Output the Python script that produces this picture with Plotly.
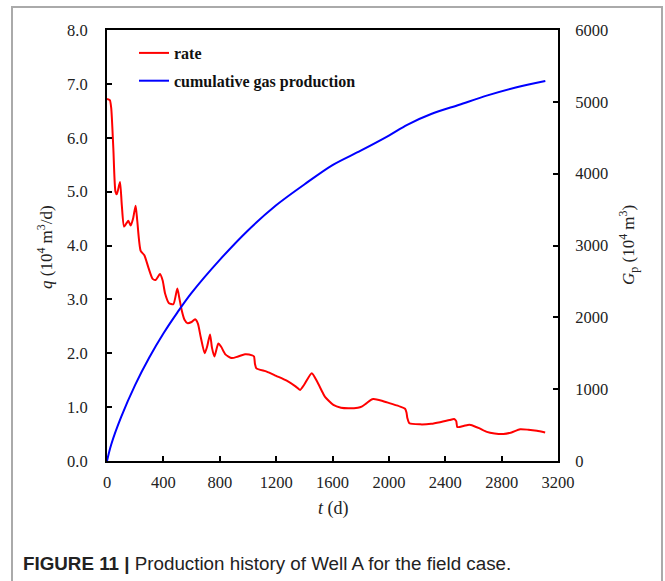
import plotly.graph_objects as go

# ---- data ----
t_rate = [0, 20, 30, 45, 60, 70, 92, 105, 121, 140, 151, 168, 185, 203, 215, 239, 265, 295,
          324, 345, 376, 395, 412, 440, 471, 499, 515, 530, 550, 570, 600, 625, 645, 665,
          693, 710, 731, 745, 762, 790, 810, 840, 885, 930, 979, 1030, 1043, 1050, 1060,
          1133, 1200, 1275, 1340, 1370, 1400, 1453, 1490, 1530, 1547, 1606, 1660, 1713,
          1780, 1807, 1840, 1870, 1890, 1950, 2009, 2080, 2115, 2125, 2131, 2146, 2222,
          2300, 2363, 2430, 2463, 2478, 2486, 2530, 2560, 2581, 2640, 2695, 2750, 2813,
          2870, 2931, 2990, 3050, 3109]
q_rate = [6.72, 6.70, 6.55, 5.80, 5.00, 4.95, 5.18, 4.75, 4.35, 4.42, 4.46, 4.37, 4.50, 4.74,
          4.45, 3.90, 3.82, 3.58, 3.38, 3.36, 3.47, 3.35, 3.11, 2.93, 2.91, 3.20, 3.00, 2.80,
          2.62, 2.56, 2.58, 2.63, 2.55, 2.30, 2.00, 2.12, 2.35, 2.10, 1.94, 2.18, 2.12, 1.98,
          1.91, 1.94, 1.98, 1.96, 1.94, 1.80, 1.72, 1.66, 1.58, 1.49, 1.38, 1.32, 1.42, 1.63,
          1.48, 1.27, 1.19, 1.04, 0.99, 0.98, 0.99, 1.01, 1.07, 1.13, 1.15, 1.12, 1.07, 1.01,
          0.97, 0.90, 0.80, 0.70, 0.68, 0.69, 0.72, 0.76, 0.78, 0.74, 0.63, 0.65, 0.67, 0.67,
          0.61, 0.54, 0.51, 0.50, 0.53, 0.59, 0.58, 0.56, 0.53]

t_gp = [0, 30, 100, 200, 300, 400, 500, 600, 800, 1000, 1200, 1400, 1600, 1800, 2000,
        2130, 2300, 2500, 2700, 2900, 3110]
gp = [0, 230, 610, 1060, 1440, 1775, 2070, 2340, 2800, 3210, 3560, 3850, 4120, 4320, 4530,
      4680, 4830, 4960, 5090, 5200, 5290]

x_ticks = [0, 400, 800, 1200, 1600, 2000, 2400, 2800, 3200]
y_ticks = [0, 1, 2, 3, 4, 5, 6, 7, 8]
y2_ticks = [0, 1000, 2000, 3000, 4000, 5000, 6000]

SERIF = "Liberation Serif, Times New Roman, serif"

fig = go.Figure()
fig.add_trace(go.Scatter(x=t_rate, y=q_rate, mode="lines", name="rate",
                         line=dict(color="#ff0000", width=2, shape="spline", smoothing=0.6),
                         legendgroup="a"))
fig.add_trace(go.Scatter(x=t_gp, y=gp, mode="lines", name="cumulative gas production",
                         line=dict(color="#0000ff", width=2, shape="spline", smoothing=0.9),
                         yaxis="y2", legendgroup="b"))

W, H = 665, 581
ml, mr, mt, mb = 107, 107, 30, 120
pw, ph = W - ml - mr, H - mt - mb

def px_x(p):
    return (p - ml) / pw

def px_y(p):
    return (H - mb - p) / ph

axis_common = dict(showline=True, linecolor="black", linewidth=2, ticks="inside",
                   ticklen=5, tickwidth=2, tickcolor="black", showgrid=False, zeroline=False,
                   tickfont=dict(family=SERIF, size=16.5, color="#222"))

fig.update_layout(
    width=W, height=H,
    margin=dict(l=ml, r=mr, t=mt, b=mb, pad=0),
    paper_bgcolor="white", plot_bgcolor="white",
    xaxis=dict(range=[0, 3200], tickvals=x_ticks, mirror=True, ticklabelstandoff=5,
               **axis_common),
    yaxis=dict(range=[0, 8], tickvals=y_ticks, tickformat=".1f", ticklabelstandoff=14,
               **axis_common),
    yaxis2=dict(range=[0, 6000], tickvals=y2_ticks, overlaying="y", side="right",
                ticklabelstandoff=12, **axis_common),
    showlegend=True,
    legend=dict(x=px_x(134), y=px_y(36), xanchor="left", yanchor="top",
                bgcolor="rgba(0,0,0,0)", tracegroupgap=4,
                font=dict(family=SERIF, size=16, color="#111", weight="bold")),
    shapes=[dict(type="rect", xref="paper", yref="paper",
                 x0=px_x(12), x1=px_x(662), y0=px_y(600), y1=px_y(7),
                 line=dict(color="#aaaaaa", width=2), layer="below")],
    annotations=[
        dict(text="<i>q</i> (10<sup>4</sup> m<sup>3</sup>/d)", textangle=-90,
             xref="paper", yref="paper", x=px_x(45), y=px_y(247),
             xanchor="center", yanchor="middle", showarrow=False,
             font=dict(family=SERIF, size=17, color="#222")),
        dict(text="<i>G</i><sub>p</sub> (10<sup>4</sup> m<sup>3</sup>)", textangle=-90,
             xref="paper", yref="paper", x=px_x(628), y=px_y(245),
             xanchor="center", yanchor="middle", showarrow=False,
             font=dict(family=SERIF, size=17, color="#222")),
        dict(text="<i>t</i> (d)", xref="paper", yref="paper", x=px_x(333), y=px_y(508),
             xanchor="center", yanchor="middle", showarrow=False,
             font=dict(family=SERIF, size=18, color="#222")),
        dict(text="<b>FIGURE 11 |</b> Production history of Well A for the field case.",
             xref="paper", yref="paper", x=px_x(21), y=px_y(563),
             xanchor="left", yanchor="middle", showarrow=False,
             font=dict(family="Liberation Sans, Arial, sans-serif", size=18.8, color="#222")),
    ],
)

fig.write_html("out.html")
